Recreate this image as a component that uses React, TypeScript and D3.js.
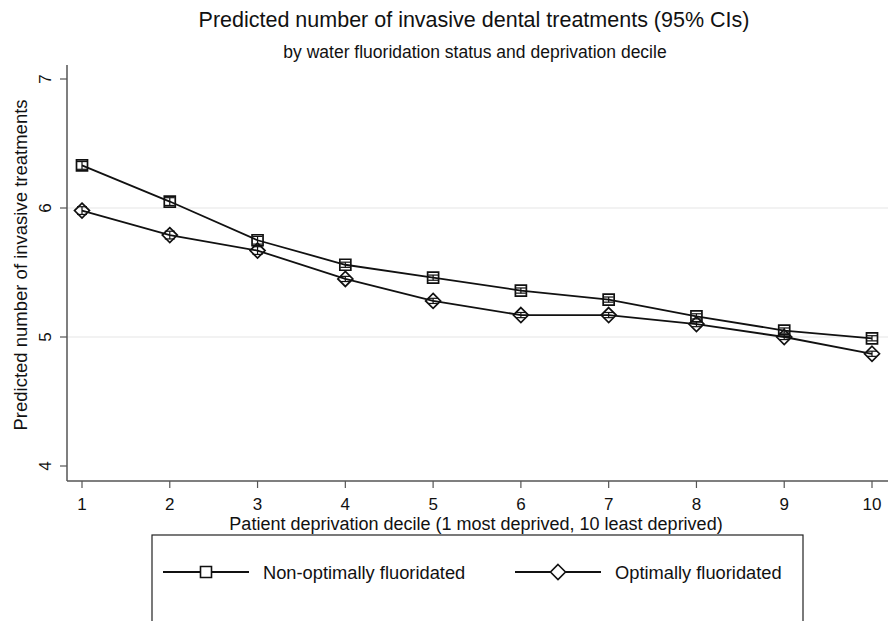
import React, { useEffect, useRef } from "react";
import * as d3 from "d3";

const deciles = [1, 2, 3, 4, 5, 6, 7, 8, 9, 10];
const nonOptimal = [6.33, 6.05, 5.75, 5.56, 5.46, 5.36, 5.29, 5.16, 5.05, 4.99];
const optimal = [5.98, 5.79, 5.67, 5.45, 5.28, 5.17, 5.17, 5.10, 5.00, 4.87];
const ciHalf = [0.03, 0.03, 0.03, 0.02, 0.02, 0.02, 0.02, 0.02, 0.02, 0.02];
const yTicks = [4, 5, 6, 7];
const gridTicks = [5, 6];

const FONT = "'Liberation Sans', Arial, Helvetica, sans-serif";

// diamond drawn as a square turned 45 degrees
const diamondPath = (r: number) => `M0,${-r}L${r},0L0,${r}L${-r},0Z`;
const squarePath = (h: number) => `M${-h},${-h}H${h}V${h}H${-h}Z`;

export default function App() {
  const svgRef = useRef<SVGSVGElement>(null);

  useEffect(() => {
    document.body.style.margin = "0";
    const width = 896;
    const height = 621;
    const svg = d3.select(svgRef.current)
      .attr("width", width)
      .attr("height", height);

    // remove old element before rebuild
    svg.selectAll("*").remove();

    svg.append("rect").attr("width", width).attr("height", height).attr("fill", "#fff");

    const plot = { left: 67, right: 888, top: 65, bottom: 481 };

    const x = d3.scaleLinear().domain([1, 10]).range([82, 872]);
    const y = d3.scaleLinear().domain([4, 7]).range([466, 79]);

    // gridlines
    svg.append("g")
      .selectAll("line")
      .data(gridTicks)
      .join("line")
      .attr("x1", plot.left)
      .attr("x2", plot.right)
      .attr("y1", (d) => y(d))
      .attr("y2", (d) => y(d))
      .attr("stroke", "#e6e6e6")
      .attr("stroke-width", 1.2);

    // y axis
    const yAxis = svg.append("g").attr("transform", `translate(${plot.left},0)`);
    yAxis.append("line")
      .attr("y1", plot.top).attr("y2", plot.bottom)
      .attr("stroke", "#555").attr("stroke-width", 1.5);
    yAxis.selectAll("line.tick")
      .data(yTicks)
      .join("line")
      .attr("class", "tick")
      .attr("x1", -7).attr("x2", 0)
      .attr("y1", (d) => y(d)).attr("y2", (d) => y(d))
      .attr("stroke", "#555").attr("stroke-width", 1.2);
    yAxis.selectAll("text")
      .data(yTicks)
      .join("text")
      .attr("transform", (d) => `translate(-16,${y(d)}) rotate(-90)`)
      .attr("text-anchor", "middle")
      .attr("font-family", FONT)
      .attr("font-size", 17)
      .attr("fill", "#111")
      .text((d) => d);

    // x axis
    const xAxis = svg.append("g").attr("transform", `translate(0,${plot.bottom})`);
    xAxis.append("line")
      .attr("x1", plot.left).attr("x2", plot.right)
      .attr("stroke", "#555").attr("stroke-width", 1.5);
    xAxis.selectAll("line.tick")
      .data(deciles)
      .join("line")
      .attr("class", "tick")
      .attr("x1", (d) => x(d)).attr("x2", (d) => x(d))
      .attr("y1", 0).attr("y2", 7)
      .attr("stroke", "#555").attr("stroke-width", 1.2);
    xAxis.selectAll("text")
      .data(deciles)
      .join("text")
      .attr("x", (d) => x(d))
      .attr("y", 29)
      .attr("text-anchor", "middle")
      .attr("font-family", FONT)
      .attr("font-size", 17)
      .attr("fill", "#111")
      .text((d) => d);

    // titles
    svg.append("text")
      .attr("x", 474).attr("y", 27)
      .attr("text-anchor", "middle")
      .attr("font-family", FONT).attr("font-size", 21.5).attr("fill", "#111")
      .text("Predicted number of invasive dental treatments (95% CIs)");
    svg.append("text")
      .attr("x", 475).attr("y", 58)
      .attr("text-anchor", "middle")
      .attr("font-family", FONT).attr("font-size", 17.5).attr("fill", "#111")
      .text("by water fluoridation status and deprivation decile");
    svg.append("text")
      .attr("x", 476).attr("y", 530)
      .attr("text-anchor", "middle")
      .attr("font-family", FONT).attr("font-size", 18).attr("fill", "#111")
      .text("Patient deprivation decile (1 most deprived, 10 least deprived)");
    svg.append("text")
      .attr("transform", `translate(27,${(plot.top + plot.bottom) / 2 - 8}) rotate(-90)`)
      .attr("text-anchor", "middle")
      .attr("font-family", FONT).attr("font-size", 18.5).attr("fill", "#111")
      .text("Predicted number of invasive treatments");

    const line = d3.line<number>()
      .x((_, i) => x(deciles[i]))
      .y((d) => y(d));

    const series = [
      { values: nonOptimal, path: squarePath(5.5) },
      { values: optimal, path: diamondPath(7.5) },
    ];

    series.forEach((s) => {
      svg.append("path")
        .datum(s.values)
        .attr("d", line)
        .attr("fill", "none")
        .attr("stroke", "#111")
        .attr("stroke-width", 1.8);

      // confidence intervals
      const ci = svg.append("g");
      s.values.forEach((v, i) => {
        const cx = x(deciles[i]);
        const lo = y(v - ciHalf[i]);
        const hi = y(v + ciHalf[i]);
        ci.append("line").attr("x1", cx).attr("x2", cx).attr("y1", lo).attr("y2", hi)
          .attr("stroke", "#111").attr("stroke-width", 1.2);
        [lo, hi].forEach((yy) => {
          ci.append("line").attr("x1", cx - 5).attr("x2", cx + 5).attr("y1", yy).attr("y2", yy)
            .attr("stroke", "#111").attr("stroke-width", 1.2);
        });
      });

      svg.append("g")
        .selectAll("path")
        .data(s.values)
        .join("path")
        .attr("transform", (d, i) => `translate(${x(deciles[i])},${y(d)})`)
        .attr("d", s.path)
        .attr("fill", "none")
        .attr("stroke", "#111")
        .attr("stroke-width", 1.7);
    });

    // legend
    const legend = svg.append("g");
    legend.append("rect")
      .attr("x", 152).attr("y", 535)
      .attr("width", 651).attr("height", 120)
      .attr("fill", "#fff")
      .attr("stroke", "#222")
      .attr("stroke-width", 1.2);

    const items = [
      { label: "Non-optimally fluoridated", path: squarePath(5.5), x0: 163 },
      { label: "Optimally fluoridated", path: diamondPath(7.5), x0: 515 },
    ];
    items.forEach((it) => {
      const ly = 572;
      legend.append("line")
        .attr("x1", it.x0).attr("x2", it.x0 + 86)
        .attr("y1", ly).attr("y2", ly)
        .attr("stroke", "#111").attr("stroke-width", 1.8);
      legend.append("path")
        .attr("transform", `translate(${it.x0 + 43},${ly})`)
        .attr("d", it.path)
        .attr("fill", "#fff")
        .attr("stroke", "#111")
        .attr("stroke-width", 1.6);
      legend.append("text")
        .attr("x", it.x0 + 100).attr("y", ly + 7)
        .attr("font-family", FONT).attr("font-size", 18.3).attr("fill", "#111")
        .text(it.label);
    });
  }, []);

  return <svg ref={svgRef} />;
}
